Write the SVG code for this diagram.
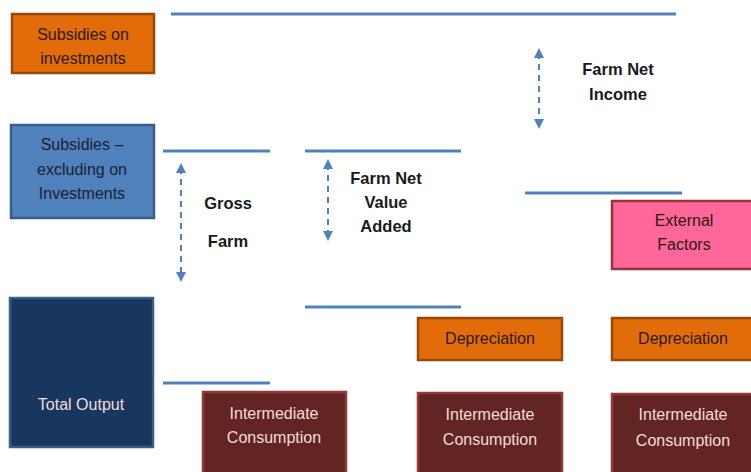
<svg xmlns="http://www.w3.org/2000/svg" width="751" height="472" viewBox="0 0 751 472">
  <style>
    .lbl { font-family: "Liberation Sans", Arial, sans-serif; font-size: 16px; text-anchor: middle; }
    .bold { font-family: "Liberation Sans", Arial, sans-serif; font-size: 16.5px; font-weight: bold; text-anchor: middle; fill: #1a1a1a; }
    .orange { fill: #E36C0A; stroke: #984807; stroke-width: 2.5; }
    .blue { fill: #4F81BD; stroke: #385D8A; stroke-width: 2.5; }
    .navy { fill: #17375E; stroke: #385D8A; stroke-width: 2.5; }
    .maroon { fill: #632523; stroke: #953735; stroke-width: 2.5; }
    .pink { fill: #FF6699; stroke: #943634; stroke-width: 2.5; }
    .dark { fill: #2a1a10; }
    .light { fill: #F2DCDB; }
    .level { stroke: #4F81BD; stroke-width: 3; fill: none; }
    .span { stroke: #4F81BD; stroke-width: 2; stroke-dasharray: 6 5; fill: none; marker-start: url(#head); marker-end: url(#head); }
  </style>
  <defs>
    <marker id="head" viewBox="0 0 10 10" refX="5" refY="5" markerWidth="5" markerHeight="5" orient="auto-start-reverse" markerUnits="strokeWidth">
      <path d="M0,0 L10,5 L0,10 z" fill="#4F81BD"/>
    </marker>
  </defs>

  <rect width="751" height="472" fill="#ffffff"/>

  <!-- level lines and span arrows -->
  <g id="connectors">
    <line class="level" x1="171" y1="14" x2="676" y2="14"/>
    <line class="level" x1="163" y1="151" x2="270" y2="151"/>
    <line class="level" x1="305" y1="151" x2="461" y2="151"/>
    <line class="level" x1="525" y1="193" x2="682" y2="193"/>
    <line class="level" x1="305" y1="307" x2="461" y2="307"/>
    <line class="level" x1="163" y1="383" x2="270" y2="383"/>
    <line class="span" x1="181" y1="168" x2="181" y2="277"/>
    <line class="span" x1="328" y1="164" x2="328" y2="236"/>
    <line class="span" x1="539" y1="53" x2="539" y2="124"/>
  </g>

  <g id="label-gross-farm">
    <text class="bold" x="228" y="209">Gross</text>
    <text class="bold" x="228" y="247">Farm</text>
  </g>
  <g id="label-fnva">
    <text class="bold" x="386" y="184">Farm Net</text>
    <text class="bold" x="386" y="208">Value</text>
    <text class="bold" x="386" y="232">Added</text>
  </g>
  <g id="label-fni">
    <text class="bold" x="618" y="75">Farm Net</text>
    <text class="bold" x="618" y="100">Income</text>
  </g>

  <g id="subsidies-investments">
    <rect class="orange" x="12" y="14" width="142" height="59"/>
    <text class="lbl dark" x="83" y="40">Subsidies on</text>
    <text class="lbl dark" x="83" y="64">investments</text>
  </g>

  <g id="subsidies-excluding">
    <rect class="blue" x="11" y="125" width="143" height="93"/>
    <text class="lbl" fill="#1c2230" x="82" y="150">Subsidies –</text>
    <text class="lbl" fill="#1c2230" x="82" y="175">excluding on</text>
    <text class="lbl" fill="#1c2230" x="82" y="199">Investments</text>
  </g>

  <g id="total-output">
    <rect class="navy" x="10" y="298" width="143" height="149"/>
    <text class="lbl light" x="81" y="410">Total Output</text>
  </g>

  <g id="external-factors">
    <rect class="pink" x="612" y="201" width="145" height="68"/>
    <text class="lbl dark" x="684" y="226">External</text>
    <text class="lbl dark" x="684" y="250">Factors</text>
  </g>

  <g id="depreciation-1">
    <rect class="orange" x="418" y="318" width="144" height="42"/>
    <text class="lbl dark" x="490" y="344">Depreciation</text>
  </g>
  <g id="depreciation-2">
    <rect class="orange" x="612" y="318" width="145" height="42"/>
    <text class="lbl dark" x="683" y="344">Depreciation</text>
  </g>

  <g id="intermediate-1">
    <rect class="maroon" x="203" y="392" width="143" height="90"/>
    <text class="lbl light" x="274" y="419">Intermediate</text>
    <text class="lbl light" x="274" y="443">Consumption</text>
  </g>
  <g id="intermediate-2">
    <rect class="maroon" x="418" y="393" width="144" height="90"/>
    <text class="lbl light" x="490" y="420">Intermediate</text>
    <text class="lbl light" x="490" y="445">Consumption</text>
  </g>
  <g id="intermediate-3">
    <rect class="maroon" x="612" y="394" width="145" height="90"/>
    <text class="lbl light" x="683" y="420">Intermediate</text>
    <text class="lbl light" x="683" y="446">Consumption</text>
  </g>
</svg>
